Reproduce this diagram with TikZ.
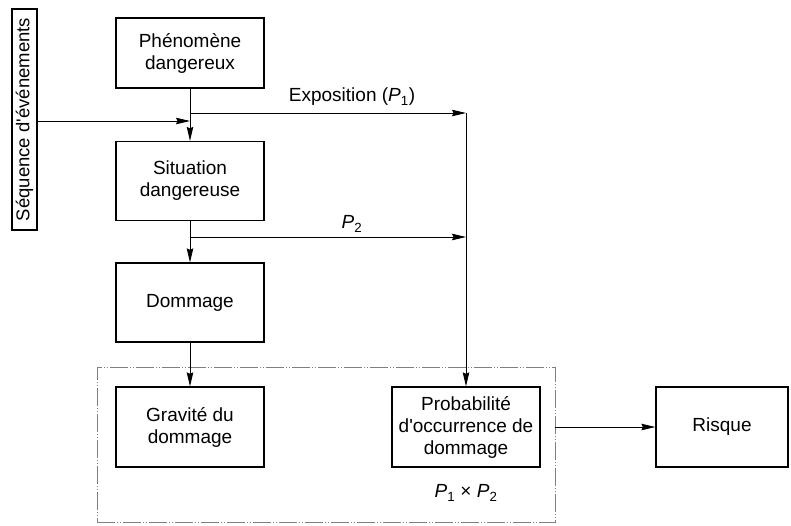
\documentclass[tikz,border=0pt]{standalone}
\usepackage{fontspec}
\setmainfont{Liberation Sans}
\usetikzlibrary{arrows.meta,positioning}
\newcommand{\Pidx}[1]{\textit{P}\textsubscript{#1}}

\begin{document}
\begin{tikzpicture}[x=1pt, y=-1pt, font=\fontsize{19}{22}\selectfont,
  box/.style = {draw, line width=1.3pt, align=center, minimum width=148pt, minimum height=79pt, inner sep=2pt},
  arr/.style = {-{Stealth[length=14pt,width=6.5pt,inset=1.5pt]}, line width=0.8pt},
  zonestyle/.style = {draw=gray, line width=0.8pt, dash pattern=on 18pt off 2pt on 1pt off 2pt on 1pt off 2pt}]
\useasboundingbox (0,0) rectangle (791,525);
% left column
\node[box, minimum height=70pt] (phen) at (190,53) {Phénomène\\dangereux};
\node[box] (sit) at (190,181) {Situation\\dangereuse};
\node[box] (dom) at (190,302.5) {Dommage};
\node[box, minimum height=80pt] (grav) at (190,427) {Gravité du\\dommage};
% right part
\node[box, minimum height=80pt] (prob) at (466,427) {Probabilité\\d\textquotesingle occurrence de\\dommage};
\node[box, minimum width=132pt, minimum height=80pt] (risk) at (722,427) {Risque};
\node[draw, line width=1.3pt, rotate=90, minimum width=221pt, minimum height=25pt, inner sep=1pt, font=\fontsize{18.5}{22}\selectfont] (seq) at (24.5,119.5) {Séquence d\textquotesingle événements};
\node[zonestyle, minimum width=458pt, minimum height=155pt] (zone) at (326,444.5) {};
% branch points
\coordinate (split1) at (190,113);
\coordinate (join) at (190,121);
\coordinate (corner) at (466,113);
\coordinate (split2) at (190,237);
\coordinate (hit2) at (466,237);
% connectors
\draw[arr] (phen) -- (sit);
\draw[arr] (seq.south |- join) -- (join);
\draw[arr] (split1) -- (corner);
\draw[arr] (corner) -- (prob.north);
\draw[arr] (sit) -- (dom);
\draw[arr] (split2) -- (hit2);
\draw[arr] (dom) -- (grav);
\draw[arr] (zone.east |- risk) -- (risk);
% labels
\node (expo) at (352,97) {Exposition (\Pidx{1})};
\node (ptwo) at (352,224) {\Pidx{2}};
\node (prod) at (466,493) {\Pidx{1} × \Pidx{2}};
\end{tikzpicture}
\end{document}
